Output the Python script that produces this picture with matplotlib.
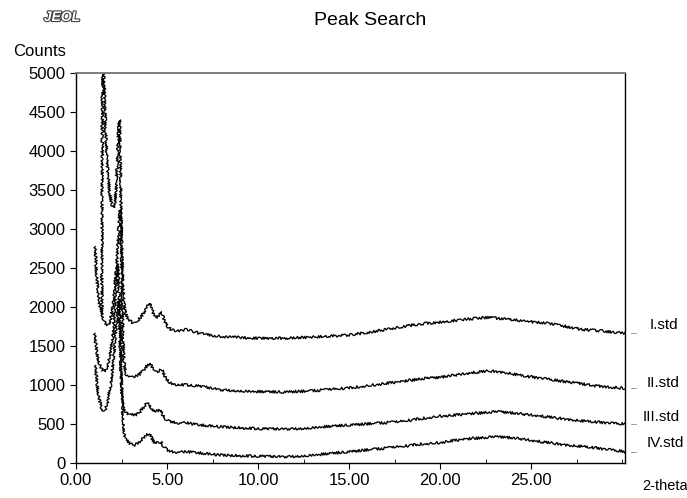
import matplotlib
matplotlib.use("Agg")
import matplotlib.pyplot as plt
import matplotlib.patheffects as pe
from matplotlib.ticker import MultipleLocator, FixedLocator, FormatStrFormatter

plt.rcParams['font.family'] = ['Liberation Sans', 'DejaVu Sans']

# diffraction patterns, 2-theta (deg) vs counts
x_I = [1.42, 1.46, 1.50, 1.55, 1.62, 1.72, 1.85, 1.98, 2.08, 2.14, 2.21, 2.29, 2.35, 2.39, 2.44, 2.50,
       2.58, 2.68, 2.80, 2.95, 3.10, 3.25, 3.40, 3.60, 3.80, 3.95, 4.07, 4.20, 4.35, 4.45, 4.60, 4.72,
       4.85, 5.00, 5.25, 5.60, 5.90, 6.10, 6.40, 6.80, 7.40, 8.00, 9.00, 10.0, 11.4, 12.5, 13.5, 15.0,
       16.5, 17.8, 19.0, 20.0, 20.5, 21.5, 22.4, 23.0, 23.7, 24.8, 25.9, 26.8, 27.7, 29.0, 30.15]
y_I = [1900, 5600, 6200, 4900, 4300, 3800, 3450, 3300, 3270, 3310, 3560, 3980, 4350, 4400, 3800, 2900,
       2250, 1960, 1870, 1830, 1800, 1810, 1830, 1880, 1960, 2030, 2050, 1950, 1860, 1870, 1910, 1925,
       1830, 1760, 1705, 1690, 1705, 1715, 1690, 1660, 1640, 1620, 1610, 1600, 1600, 1610, 1620, 1641,
       1690, 1744, 1785, 1805, 1820, 1845, 1865, 1860, 1842, 1815, 1790, 1755, 1714, 1690, 1662]

x_II = [1.06, 1.12, 1.20, 1.30, 1.45, 1.60, 1.72, 1.80, 1.95, 2.10, 2.25, 2.35, 2.42, 2.47, 2.52, 2.58,
        2.65, 2.75, 2.90, 3.10, 3.30, 3.50, 3.75, 3.95, 4.07, 4.20, 4.40, 4.55, 4.72, 4.90, 5.15, 5.50,
        6.10, 6.60, 7.00, 7.90, 9.00, 10.0, 11.4, 12.5, 13.5, 15.0, 16.5, 17.8, 19.0, 20.0, 21.2, 22.0,
        22.75, 23.6, 24.6, 25.5, 26.5, 27.3, 28.5, 30.15]
y_II = [2773, 2450, 2200, 2020, 1880, 1800, 1770, 1775, 1900, 2150, 2600, 3000, 3250, 3150, 2300, 1600,
        1250, 1140, 1110, 1100, 1115, 1140, 1200, 1265, 1280, 1220, 1170, 1185, 1195, 1100, 1025, 1005,
        1000, 990, 978, 940, 925, 915, 910, 920, 935, 962, 1005, 1043, 1080, 1100, 1140, 1165,
        1180, 1160, 1115, 1090, 1055, 1030, 990, 957]

x_III = [1.04, 1.10, 1.20, 1.30, 1.42, 1.55, 1.65, 1.80, 1.95, 2.10, 2.20, 2.28, 2.33, 2.40, 2.48, 2.56,
         2.65, 2.78, 3.00, 3.24, 3.45, 3.70, 3.92, 4.05, 4.25, 4.45, 4.62, 4.80, 5.00, 5.16, 5.60, 6.08,
         6.40, 6.81, 7.90, 9.00, 10.0, 11.4, 12.5, 13.5, 15.0, 16.5, 17.8, 19.0, 20.0, 20.5, 21.5, 22.7,
         23.3, 24.4, 25.5, 26.8, 28.24, 30.15]
y_III = [1662, 1500, 1350, 1260, 1200, 1170, 1185, 1300, 1500, 1850, 2250, 2550, 2450, 1800, 1100, 800,
         690, 640, 620, 615, 640, 710, 775, 740, 660, 670, 680, 600, 545, 530, 515, 517,
         500, 487, 466, 450, 440, 436, 445, 462, 487, 510, 530, 570, 603, 607, 630, 650,
         658, 630, 603, 565, 530, 500]

x_IV = [1.08, 1.15, 1.25, 1.38, 1.50, 1.60, 1.75, 1.90, 2.05, 2.20, 2.32, 2.38, 2.43, 2.50, 2.58, 2.66,
        2.75, 2.90, 3.10, 3.24, 3.45, 3.70, 3.90, 4.03, 4.18, 4.34, 4.50, 4.65, 4.85, 5.05, 5.26, 5.70,
        6.08, 6.50, 7.00, 7.90, 9.00, 10.0, 11.4, 12.5, 13.5, 15.0, 16.5, 17.8, 19.0, 20.0, 20.5, 21.5,
        22.7, 23.3, 24.4, 25.5, 26.8, 28.24, 29.2, 30.15]
y_IV = [1250, 1030, 850, 710, 660, 670, 800, 1000, 1300, 1700, 2050, 2100, 1700, 1000, 550, 360,
        300, 260, 235, 231, 260, 320, 370, 380, 310, 252, 265, 273, 200, 160, 145, 140,
        145, 135, 124, 103, 92, 88, 81, 92, 112, 145, 180, 209, 245, 261, 280, 310,
        329, 338, 310, 274, 235, 201, 175, 145]

traces = [(x_I, y_I), (x_II, y_II), (x_III, y_III), (x_IV, y_IV)]
names = ['I.std', 'II.std', 'III.std', 'IV.std']
label_pos = [(650, 325), (647, 383), (643, 417), (647, 443)]  # pixel positions
x_ticks = [0, 5, 10, 15, 20, 25]

W, H = 687, 498
fig = plt.figure(figsize=(W / 100, H / 100), dpi=100)
ax = fig.add_axes([76 / W, 1 - 463 / H, (625 - 76) / W, (463 - 73) / H])

for xs, ys in traces:
    ln, = ax.plot(xs, ys, color='black', lw=0.95)
    ln.set_sketch_params(scale=1.3, length=1.5, randomness=3.0)
    # small end marker outside the frame
    ax.plot([xs[-1] + 0.35, xs[-1] + 0.6], [ys[-1], ys[-1]], color='0.55', lw=0.6, clip_on=False)

ax.set_xlim(0, 30.15)
ax.set_ylim(0, 5000)
ax.xaxis.set_major_locator(FixedLocator(x_ticks))
ax.xaxis.set_minor_locator(MultipleLocator(2.5))
ax.xaxis.set_major_formatter(FormatStrFormatter('%.2f'))
ax.yaxis.set_major_locator(MultipleLocator(500))
ax.tick_params(axis='both', which='major', labelsize=12, direction='out', length=4, width=0.8)
ax.tick_params(axis='x', which='minor', direction='in', length=3, width=0.6)
ax.tick_params(axis='x', pad=3)
for s in ['left', 'bottom', 'right']:
    ax.spines[s].set_linewidth(1.0)
ax.spines['top'].set_color('0.45')
ax.spines['top'].set_linewidth(1.3)

fig.text(370 / W, 1 - 20 / H, 'Peak Search', ha='center', va='center', fontsize=14)
fig.text(40 / W, 1 - 52 / H, 'Counts', ha='center', va='center', fontsize=12)
fig.text(665 / W, 1 - 486 / H, '2-theta', ha='center', va='center', fontsize=10.5)
fig.text(62 / W, 1 - 17 / H, 'JEOL', ha='center', va='center', fontsize=10,
         fontstyle='italic', fontweight='bold', color='white',
         path_effects=[pe.withStroke(linewidth=1.6, foreground='0.25')])

for name, (px, py) in zip(names, label_pos):
    fig.text(px / W, 1 - py / H, name, ha='left', va='center', fontsize=11)

fig.savefig('out.png', dpi=100)
